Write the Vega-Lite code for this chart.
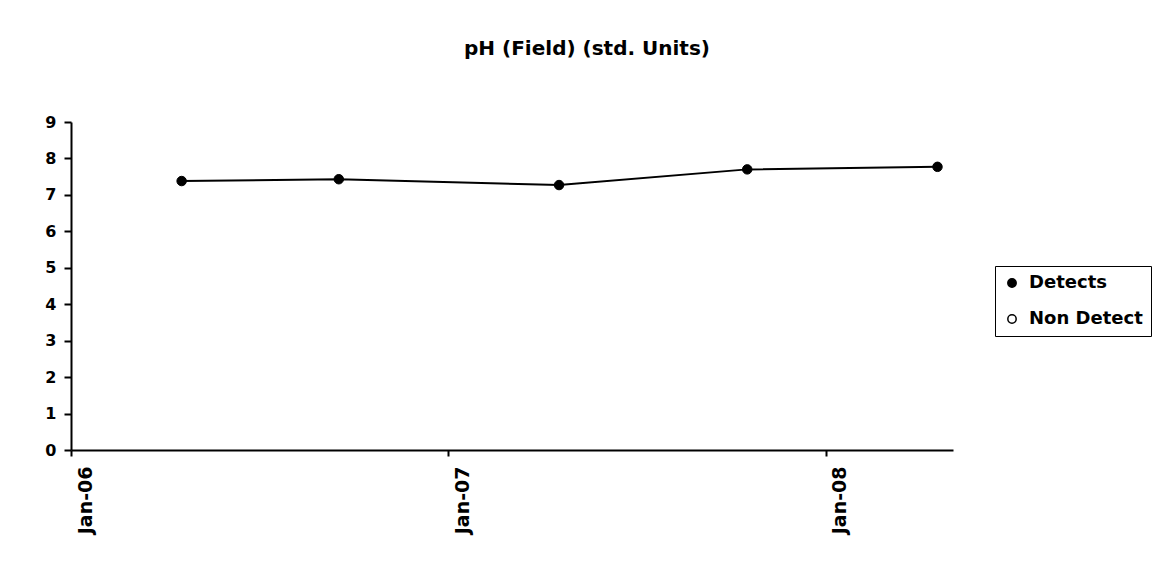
{
  "$schema": "https://vega.github.io/schema/vega-lite/v6.json",
  "width": 882,
  "height": 328,
  "autosize": "none",
  "padding": {"left": 71, "top": 122, "right": 209, "bottom": 127},
  "background": "white",
  "title": {
    "text": "pH (Field) (std. Units)",
    "font": "DejaVu Sans",
    "fontSize": 20,
    "fontWeight": "bold",
    "color": "black",
    "anchor": "middle",
    "dx": 75,
    "offset": 55
  },
  "config": {
    "view": {"stroke": null},
    "axis": {
      "grid": false,
      "domainColor": "black",
      "domainWidth": 2,
      "tickColor": "black",
      "tickWidth": 2,
      "labelColor": "black",
      "labelFont": "DejaVu Sans",
      "labelFontWeight": "bold",
      "labelOverlap": false,
      "labelBound": false,
      "labelFlush": false
    }
  },
  "data": {
    "values": [
      {"date": "2006-04-18", "ph": 7.38, "type": "Detects"},
      {"date": "2006-09-17", "ph": 7.43, "type": "Detects"},
      {"date": "2007-04-18", "ph": 7.27, "type": "Detects"},
      {"date": "2007-10-17", "ph": 7.70, "type": "Detects"},
      {"date": "2008-04-18", "ph": 7.77, "type": "Detects"}
    ]
  },
  "encoding": {
    "x": {
      "field": "date",
      "type": "temporal",
      "title": null,
      "scale": {
        "domain": [{"year": 2006, "month": 1, "date": 1}, {"year": 2008, "month": 5, "date": 3}],
        "nice": false
      },
      "axis": {
        "values": [
          {"year": 2006, "month": 1, "date": 1},
          {"year": 2007, "month": 1, "date": 1},
          {"year": 2008, "month": 1, "date": 1}
        ],
        "format": "%b-%y",
        "labelAngle": 270,
        "labelAlign": "right",
        "labelBaseline": "middle",
        "labelOffset": 14,
        "labelPadding": 10,
        "labelFontSize": 19,
        "tickSize": 6
      }
    },
    "y": {
      "field": "ph",
      "type": "quantitative",
      "title": null,
      "scale": {"domain": [0, 9], "nice": false},
      "axis": {
        "values": [0, 1, 2, 3, 4, 5, 6, 7, 8, 9],
        "labelFontSize": 16,
        "tickSize": 7,
        "labelPadding": 8
      }
    }
  },
  "layer": [
    {
      "mark": {"type": "line", "color": "black", "strokeWidth": 2}
    },
    {
      "mark": {
        "type": "point",
        "shape": "circle",
        "filled": true,
        "size": 90,
        "opacity": 1,
        "stroke": "black",
        "strokeWidth": 1
      },
      "encoding": {
        "fill": {
          "field": "type",
          "type": "nominal",
          "scale": {"domain": ["Detects", "Non Detect"], "range": ["black", "white"]},
          "legend": {
            "title": null,
            "orient": "none",
            "legendX": 924,
            "legendY": 144,
            "strokeColor": "black",
            "padding": 8,
            "fillColor": "white",
            "symbolType": "circle",
            "symbolSize": 70,
            "symbolStrokeColor": "black",
            "symbolStrokeWidth": 1.5,
            "symbolOpacity": 1,
            "labelFont": "DejaVu Sans",
            "labelFontWeight": "bold",
            "labelFontSize": 18,
            "labelColor": "black",
            "labelOffset": 8,
            "rowPadding": 18,
            "labelLimit": 300
          }
        }
      }
    }
  ]
}
